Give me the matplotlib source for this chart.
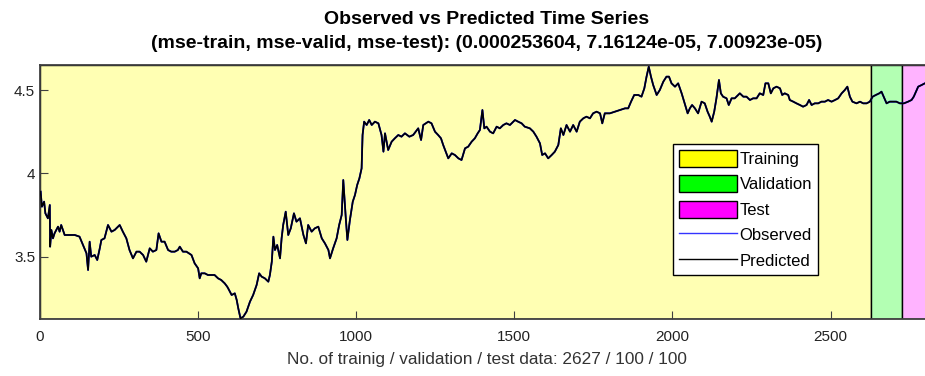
import matplotlib
matplotlib.use("Agg")
import matplotlib.pyplot as plt
from matplotlib.patches import Patch
from matplotlib.lines import Line2D

plt.rcParams['font.family'] = ['Liberation Sans', 'DejaVu Sans']

# sample index / value
idx = [2, 6, 13, 17, 25, 31, 32, 36, 41, 46, 57, 62, 67, 78, 89, 110, 125, 136, 147, 152,
       157, 162, 173, 181, 189, 194, 204, 215, 226, 236, 252, 262, 273, 283, 294, 305, 315,
       326, 336, 347, 357, 368, 375, 384, 394, 405, 415, 426, 436, 442, 452, 463, 479, 489,
       500, 505, 510, 521, 531, 542, 552, 563, 573, 584, 592,
       595, 606, 616, 622, 627, 634, 643, 653, 664, 674, 685, 693, 701, 711, 722, 727, 733,
       738, 743, 750, 759, 764, 769, 777, 785, 793, 803, 811, 822, 833, 841, 848, 859, 869,
       880, 891, 901, 912, 917, 927, 938, 946, 954, 959, 967, 972, 980, 989, 996, 1003, 1010,
       1017, 1020, 1025, 1033, 1041, 1049, 1059, 1070, 1080, 1086, 1091, 1101, 1112, 1122,
       1133, 1143, 1154, 1168,
       1180, 1196, 1205, 1212, 1228, 1238, 1249, 1259, 1268, 1275, 1283, 1291, 1302, 1312,
       1323, 1333, 1344, 1354, 1365, 1375, 1384, 1391, 1399, 1405, 1412, 1423, 1433, 1444,
       1454, 1465, 1475, 1486, 1502, 1512, 1523, 1533, 1549, 1560, 1570, 1581, 1588, 1597,
       1607, 1618, 1628, 1639, 1647, 1655, 1665, 1676, 1686, 1697, 1707, 1718, 1728, 1739,
       1749, 1760, 1771,
       1778, 1786, 1802, 1818, 1834, 1850, 1860, 1869, 1879, 1892, 1902, 1911, 1918, 1925,
       1932, 1939, 1950, 1960, 1971, 1981, 1989, 1997, 2008, 2018, 2029, 2037, 2048, 2055,
       2062, 2071, 2081, 2092, 2102, 2111, 2118, 2124, 2132, 2139, 2147, 2153, 2160, 2171,
       2178, 2187, 2197, 2213, 2224, 2234, 2245, 2255, 2266, 2276, 2287, 2294, 2303, 2311,
       2319, 2329, 2340, 2347, 2355, 2366,
       2371, 2382, 2392, 2403, 2413, 2424, 2432, 2440, 2450, 2461, 2471, 2482, 2492, 2503,
       2514, 2524, 2535, 2545, 2553, 2561, 2569, 2582, 2593, 2603, 2614, 2624, 2633, 2643,
       2654, 2661, 2668, 2677, 2687, 2698, 2708, 2719, 2732, 2745, 2756, 2763, 2770, 2777,
       2788, 2798, 2812, 2826]

observed = [3.89, 3.80, 3.83, 3.76, 3.73, 3.81, 3.56, 3.66, 3.61, 3.64, 3.68, 3.65, 3.69, 3.63,
            3.63, 3.63, 3.62, 3.57, 3.52, 3.42, 3.59, 3.50, 3.51, 3.48, 3.55, 3.60, 3.61, 3.69,
            3.65, 3.66, 3.69, 3.65, 3.61, 3.54, 3.49, 3.53, 3.53, 3.51, 3.47, 3.55, 3.53, 3.54,
            3.64, 3.59, 3.59, 3.54, 3.53, 3.53, 3.54, 3.56, 3.53, 3.53, 3.51, 3.46, 3.43, 3.37,
            3.40, 3.40, 3.39, 3.39, 3.39, 3.37, 3.36, 3.34, 3.32,
            3.31, 3.27, 3.28, 3.24, 3.19, 3.13, 3.14, 3.17, 3.23, 3.27, 3.33, 3.40, 3.38, 3.37,
            3.35, 3.39, 3.47, 3.62, 3.54, 3.57, 3.49, 3.61, 3.69, 3.77, 3.63, 3.67, 3.76, 3.71,
            3.73, 3.63, 3.58, 3.69, 3.65, 3.67, 3.68, 3.61, 3.58, 3.54, 3.49, 3.55, 3.61, 3.69,
            3.75, 3.96, 3.73, 3.60, 3.72, 3.83, 3.87, 3.93, 3.97, 4.03, 4.23, 4.31, 4.29, 4.32,
            4.29, 4.31, 4.30, 4.23, 4.13, 4.24, 4.14, 4.19, 4.21, 4.23, 4.22, 4.24, 4.22,
            4.23, 4.27, 4.20, 4.29, 4.31, 4.30, 4.25, 4.23, 4.21, 4.17, 4.13, 4.09, 4.12, 4.11,
            4.09, 4.08, 4.15, 4.16, 4.19, 4.21, 4.24, 4.26, 4.38, 4.27, 4.28, 4.25, 4.24, 4.28,
            4.27, 4.29, 4.30, 4.29, 4.32, 4.31, 4.30, 4.28, 4.27, 4.25, 4.22, 4.18, 4.11, 4.12,
            4.09, 4.11, 4.13, 4.17, 4.27, 4.23, 4.29, 4.25, 4.29, 4.25, 4.31, 4.33, 4.34, 4.33,
            4.36, 4.37, 4.36,
            4.30, 4.36, 4.36, 4.37, 4.38, 4.39, 4.39, 4.43, 4.47, 4.47, 4.46, 4.51, 4.58, 4.64,
            4.58, 4.53, 4.47, 4.50, 4.55, 4.58, 4.58, 4.54, 4.52, 4.54, 4.48, 4.43, 4.36, 4.39,
            4.41, 4.39, 4.36, 4.43, 4.42, 4.37, 4.34, 4.31, 4.37, 4.45, 4.56, 4.48, 4.46, 4.45,
            4.41, 4.45, 4.45, 4.48, 4.46, 4.46, 4.44, 4.45, 4.45, 4.48, 4.47, 4.54, 4.54, 4.48,
            4.51, 4.52, 4.51, 4.47, 4.48, 4.47,
            4.44, 4.43, 4.42, 4.41, 4.40, 4.41, 4.44, 4.41, 4.42, 4.42, 4.43, 4.43, 4.44, 4.43,
            4.44, 4.45, 4.48, 4.50, 4.52, 4.46, 4.43, 4.42, 4.43, 4.42, 4.42, 4.43, 4.46, 4.47,
            4.48, 4.49, 4.46, 4.42, 4.43, 4.43, 4.43, 4.42, 4.42, 4.43, 4.44, 4.46, 4.49, 4.52,
            4.53, 4.54, 4.54, 4.54]
predicted = observed

n_train, n_valid, n_test = 2627, 100, 100
mse = (0.000253604, 7.16124e-05, 7.00923e-05)

fig = plt.figure(figsize=(9.25, 3.76), dpi=100)
ax = fig.add_axes([40 / 925, 57 / 376, 894 / 925, 254 / 376])

ax.axvspan(0, n_train, facecolor='#ffffb3', edgecolor='black', lw=1, zorder=0)
ax.axvspan(n_train, n_train + n_valid, facecolor='#b3ffb3', edgecolor='black', lw=1, zorder=0)
ax.axvspan(n_train + n_valid, n_train + n_valid + n_test, facecolor='#ffb3ff', edgecolor='black', lw=1, zorder=0)

ax.plot(idx, observed, color='blue', lw=1.3, zorder=2)
ax.plot(idx, predicted, color='black', lw=1.2, zorder=3)

ax.set_xlim(0, n_train + n_valid + n_test)
ax.set_ylim(3.126, 4.65)
ax.set_xticks([0, 500, 1000, 1500, 2000, 2500])
ax.set_yticks([3.5, 4, 4.5])
ax.set_yticklabels(['3.5', '4', '4.5'])
ax.tick_params(direction='in', length=6, color='#404040', labelsize=11, labelcolor='#222222')
ax.tick_params(axis='x', pad=8)
for s in ax.spines.values():
    s.set_color('#404040')
    s.set_linewidth(1.3)

ax.set_xlabel('No. of trainig / validation / test data: %d / %d / %d' % (n_train, n_valid, n_test),
              fontsize=12.4, color='#333333', labelpad=6)
ax.set_title('Observed vs Predicted Time Series\n(mse-train, mse-valid, mse-test): (%g, %g, %g)' % mse,
             fontsize=14, fontweight='bold', linespacing=1.55, pad=12)

handles = [Patch(facecolor='#ffff00', edgecolor='black', label='Training'),
           Patch(facecolor='#00ff00', edgecolor='black', label='Validation'),
           Patch(facecolor='#ff00ff', edgecolor='black', label='Test'),
           Line2D([], [], color='#3333ff', lw=1, label='Observed'),
           Line2D([], [], color='black', lw=1, label='Predicted')]
leg = ax.legend(handles=handles, loc='upper left', bbox_to_anchor=(0.708, 0.689), borderaxespad=0,
                fontsize=12, fancybox=False, framealpha=1, edgecolor='black',
                handlelength=3.5, handleheight=1.2, handletextpad=0.15, labelspacing=0.5,
                borderpad=0.35)
leg.get_frame().set_linewidth(1)

fig.savefig('out.png', dpi=100)
